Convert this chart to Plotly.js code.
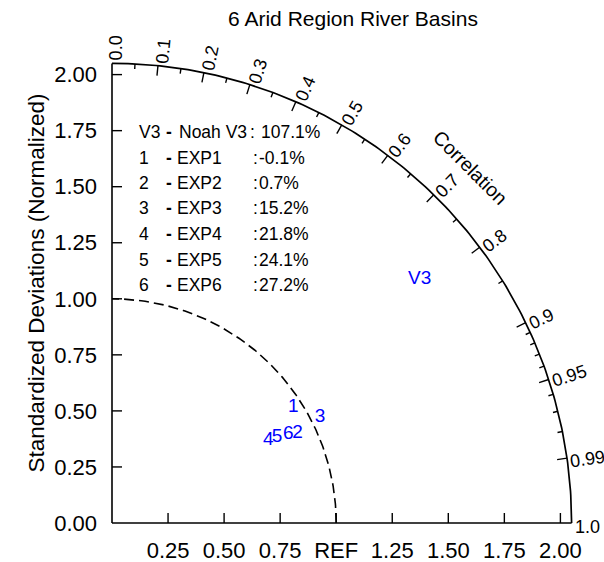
<!DOCTYPE html>
<html>
<head>
<meta charset="utf-8">
<script src="https://cdn.plot.ly/plotly-3.0.1.min.js"></script>
<style>html,body{margin:0;padding:0;background:#fff;}#chart{width:604px;height:562px;}</style>
</head>
<body>
<div id="chart"></div>
<script>
// ---- data ----
const pointLabels = ['V3', '1', '2', '3', '4', '5', '6'];
const caseNames = ['Noah V3', 'EXP1', 'EXP2', 'EXP3', 'EXP4', 'EXP5', 'EXP6'];
const biasPct = [107.1, -0.1, 0.7, 15.2, 21.8, 24.1, 27.2];
const stdNorm = [1.75, 0.96, 0.92, 1.04, 0.79, 0.83, 0.88];
const corrVals = [0.784, 0.842, 0.900, 0.892, 0.883, 0.887, 0.894];

const stdTickVals = [0, 0.25, 0.5, 0.75, 1.0, 1.25, 1.5, 1.75, 2.0];
const yTickText = ['0.00', '0.25', '0.50', '0.75', '1.00', '1.25', '1.50', '1.75', '2.00'];
const xTickVals = [0.25, 0.5, 0.75, 1.0, 1.25, 1.5, 1.75, 2.0];
const xTickText = ['0.25', '0.50', '0.75', 'REF', '1.25', '1.50', '1.75', '2.00'];
const corrMajor = [0.0, 0.1, 0.2, 0.3, 0.4, 0.5, 0.6, 0.7, 0.8, 0.9, 0.95, 0.99, 1.0];
const corrMajorText = ['0.0', '0.1', '0.2', '0.3', '0.4', '0.5', '0.6', '0.7', '0.8', '0.9', '0.95', '0.99', '1.0'];
const corrMinor = [0.05, 0.15, 0.25, 0.35, 0.45, 0.55, 0.65, 0.75, 0.85, 0.91, 0.92, 0.93, 0.94, 0.96, 0.97, 0.98];
const RMAX = 2.05;
const REF = 1.0;

// ---- geometry (pixels) ----
const FONT = 'Liberation Sans, Arial, Helvetica, sans-serif';
const SCALE = 224.2;            // px per unit
const OX = 112, OY = 523;       // origin pixel
const ML = 101, MB = 28, MT = 30, MR = 0;
const W = 604, H = 562;
const PW = W - ML - MR, PH = H - MT - MB;
const xmin = -(OX - ML) / SCALE;
const ymin = -((H - MB) - OY) / SCALE;
const xmax = xmin + PW / SCALE;
const ymax = ymin + PH / SCALE;
const pxX = p => (p - ML) / PW;
const pxY = p => ((H - MB) - p) / PH;

const cvs = document.createElement('canvas').getContext('2d');
function textW(t, size) { cvs.font = size + 'px "Liberation Sans"'; return cvs.measureText(t).width; }

const traces = [];
// outer arc
const arcX = [], arcY = [], dX = [], dY = [];
for (let i = 0; i <= 180; i++) {
  const a = Math.PI / 2 * i / 180;
  arcX.push(RMAX * Math.cos(a)); arcY.push(RMAX * Math.sin(a));
  dX.push(REF * Math.cos(a)); dY.push(REF * Math.sin(a));
}
traces.push({x: arcX, y: arcY, mode: 'lines', line: {color: '#000', width: 1.7}, hoverinfo: 'skip'});
// axes lines
traces.push({x: [0, 0, null, 0, RMAX], y: [RMAX, 0, null, 0, 0], mode: 'lines', line: {color: '#000', width: 1.6}, hoverinfo: 'skip'});
// REF dashed arc
traces.push({x: dX, y: dY, mode: 'lines', line: {color: '#000', width: 1.6, dash: '10px,5px'}, hoverinfo: 'skip'});
// axis ticks
const tX = [], tY = [];
const tl = 10 / SCALE;
stdTickVals.forEach(v => { if (v > 0) { tX.push(0, tl, null); tY.push(v, v, null); } });
xTickVals.forEach(v => { tX.push(v, v, null); tY.push(0, tl, null); });
// correlation ticks
corrMajor.forEach(c => {
  if (c <= 0 || c >= 1) return;
  const a = Math.acos(c);
  tX.push(RMAX * c, (RMAX - tl) * c, null);
  tY.push(RMAX * Math.sin(a), (RMAX - tl) * Math.sin(a), null);
});
const ml = 5 / SCALE;
corrMinor.forEach(c => {
  const a = Math.acos(c);
  tX.push(RMAX * c, (RMAX - ml) * c, null);
  tY.push(RMAX * Math.sin(a), (RMAX - ml) * Math.sin(a), null);
});
traces.push({x: tX, y: tY, mode: 'lines', line: {color: '#000', width: 1.4}, hoverinfo: 'skip'});
// points (as text markers)
traces.push({
  x: stdNorm.map((s, i) => s * corrVals[i]),
  y: stdNorm.map((s, i) => s * Math.sin(Math.acos(corrVals[i]))),
  mode: 'text', text: pointLabels, textposition: 'middle center',
  textfont: {family: FONT, size: 19, color: '#0000ff'}, cliponaxis: false, hoverinfo: 'skip'
});

const ann = [];
// correlation labels
const CS = 18;
corrMajor.forEach((c, i) => {
  const a = Math.acos(c);
  const t = corrMajorText[i];
  const w = textW(t, CS);
  const rc = RMAX * SCALE + 3 + w / 2;
  const off = 3.5;
  const cx = OX + rc * Math.cos(a) + off * Math.sin(a);
  const cy = OY - rc * Math.sin(a) + off * Math.cos(a);
  ann.push({xref: 'paper', yref: 'paper', x: pxX(cx), y: pxY(cy), text: t, showarrow: false,
    xanchor: 'center', yanchor: 'middle', textangle: -a * 180 / Math.PI,
    font: {family: FONT, size: CS, color: '#000'}});
});
ann.push({xref: 'paper', yref: 'paper', x: pxX(470), y: pxY(167), text: 'Correlation', showarrow: false,
  xanchor: 'center', yanchor: 'middle', textangle: 45, font: {family: FONT, size: 19.5, color: '#000'}});
// y title
ann.push({xref: 'paper', yref: 'paper', x: pxX(36), y: pxY(283.5), text: 'Standardized Deviations (Normalized)', showarrow: false,
  xanchor: 'center', yanchor: 'middle', textangle: -90, font: {family: FONT, size: 22.5, color: '#000'}});
// legend text
const LS = 17.5;
pointLabels.forEach((lab, i) => {
  const y = pxY(132 + i * 25.5);
  const base = {xref: 'paper', yref: 'paper', y: y, showarrow: false, xanchor: 'left', yanchor: 'middle',
    font: {family: FONT, size: LS, color: '#000'}};
  ann.push(Object.assign({}, base, {x: pxX(137), text: lab}));
  ann.push(Object.assign({}, base, {x: pxX(164), text: '<b>-</b>'}));
  ann.push(Object.assign({}, base, {x: pxX(i === 0 ? 177 : 175), text: caseNames[i]}));
  ann.push(Object.assign({}, base, {x: pxX(i === 0 ? 248 : 251), text: ':'}));
  ann.push(Object.assign({}, base, {x: pxX(i === 0 ? 259 : 257), text: biasPct[i].toFixed(1) + '%'}));
});

const layout = {
  width: W, height: H, autosize: false,
  margin: {l: ML, r: MR, t: MT, b: MB, pad: 0},
  paper_bgcolor: '#fff', plot_bgcolor: '#fff',
  showlegend: false,
  font: {family: FONT, color: '#000'},
  title: {text: '6 Arid Region River Basins', x: 353 / W, y: 1 - 19 / H, xref: 'container', yref: 'container',
    xanchor: 'center', yanchor: 'middle', font: {family: FONT, size: 21, color: '#000'}},
  xaxis: {range: [xmin, xmax], tickvals: xTickVals, ticktext: xTickText, ticks: '', showgrid: false,
    zeroline: false, showline: false, tickfont: {family: FONT, size: 22, color: '#000'}, ticklabelstandoff: 1, fixedrange: true},
  yaxis: {range: [ymin, ymax], tickvals: stdTickVals, ticktext: yTickText, ticks: '', showgrid: false,
    zeroline: false, showline: false, tickfont: {family: FONT, size: 22, color: '#000'}, ticklabelstandoff: 3, fixedrange: true},
  annotations: ann
};
Plotly.newPlot('chart', traces, layout, {displayModeBar: false, staticPlot: true});
</script>
</body>
</html>
